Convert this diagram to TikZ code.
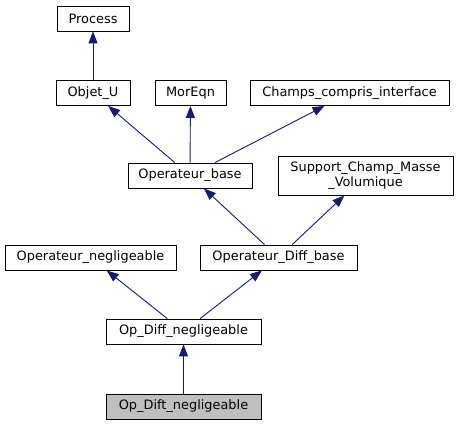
\documentclass[tikz,border=0pt]{standalone}
\usepackage{fontspec}
\setmainfont{DejaVu Sans}
\usetikzlibrary{arrows.meta,positioning}

\tikzset{
  cls/.style={draw=black, line width=0.8pt, fill=white, minimum height=25pt,
    inner sep=0pt, font=\fontsize{12.9}{14.5}\selectfont},
  inherit/.style={draw={rgb,255:red,25;green,25;blue,112}, line width=0.9pt,
    -{Triangle[length=12pt,width=9pt]}}
}

\begin{document}
\begin{tikzpicture}[x=1pt,y=-1pt]
\useasboundingbox (0,0) rectangle (458,425);
% classes
\node[cls, minimum width=72pt] (process) at (93,18.5) {Process};
\node[cls, minimum width=74pt] (objetu) at (93,93) {Objet\_U};
\node[cls, minimum width=71pt] (moreqn) at (190.5,93) {MorEqn};
\node[cls, minimum width=199pt] (champs) at (349.5,93) {Champs\_compris\_interface};
\node[cls, minimum width=124pt] (opbase) at (190,175.5) {Operateur\_base};
\node[cls, minimum width=175pt, minimum height=39pt, align=center] (support) at (365.5,175.5)
  {Support\_Champ\_Masse\\\_Volumique};
\node[cls, minimum width=171pt] (opneg) at (90.5,257.5) {Operateur\_negligeable};
\node[cls, minimum width=157pt] (opdiffbase) at (278.5,257.5) {Operateur\_Diff\_base};
\node[cls, minimum width=155pt] (opdiffneg) at (183.5,331.5) {Op\_Diff\_negligeable};
\node[cls, minimum width=155pt, fill={rgb,255:red,191;green,191;blue,191}] (opdiftneg) at (183.5,406.5) {Op\_Dift\_negligeable};
% inheritance
\draw[inherit] (objetu) -- (process);
\draw[inherit] (opbase) -- (objetu);
\draw[inherit] (opbase) -- (moreqn);
\draw[inherit] (opbase) -- (champs);
\draw[inherit] (opdiffbase) -- (opbase);
\draw[inherit] (opdiffbase) -- (support);
\draw[inherit] (opdiffneg) -- (opneg);
\draw[inherit] (opdiffneg) -- (opdiffbase);
\draw[inherit] (opdiftneg) -- (opdiffneg);
\end{tikzpicture}
\end{document}
